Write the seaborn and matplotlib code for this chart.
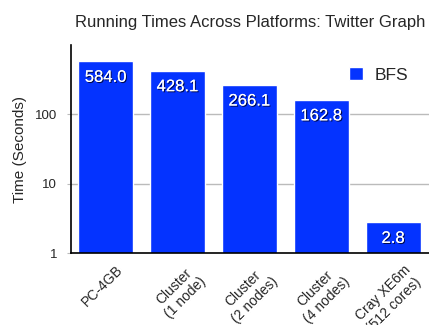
import matplotlib
matplotlib.use("Agg")
import matplotlib.pyplot as plt
import matplotlib.patheffects as pe
import matplotlib.transforms as mtrans
import seaborn as sns
import pandas as pd

categories = ["PC-4GB", "Cluster\n(1 node)", "Cluster\n(2 nodes)", "Cluster\n(4 nodes)", "Cray XE6m\n(512 cores)"]
bfs_times = [584.0, 428.1, 266.1, 162.8, 2.8]
series_name = "BFS"
y_ticks = [1, 10, 100]
y_tick_labels = ["1", "10", "100"]

df = pd.DataFrame({"platform": categories, "time": bfs_times, "series": series_name})

sns.set_style("white")
plt.rcParams["font.family"] = ["Liberation Sans", "DejaVu Sans"]

fig = plt.figure(figsize=(4.29, 3.25), dpi=100)
ax = fig.add_axes([71/429, 1 - 253.3/325, (429 - 71)/429, (253.3 - 45)/325])

blue = "#0433FF"
sns.barplot(data=df, x="platform", y="time", hue="series", palette=[blue],
            width=0.765, ax=ax, saturation=1, legend=True, zorder=2)
ax.set_yscale("log", nonpositive="clip")

ax.set_ylim(1, 1000)
ax.set_xlim(-0.48, 4.5)
ax.set_yticks(y_ticks)
ax.set_yticklabels(y_tick_labels)
ax.yaxis.set_minor_locator(matplotlib.ticker.NullLocator())
ax.grid(axis="y", color="#BBBBBB", linewidth=1, zorder=0)
ax.grid(axis="x", visible=False)
ax.set_axisbelow(True)
for s in ["top", "right"]:
    ax.spines[s].set_visible(False)
for s in ["left", "bottom"]:
    ax.spines[s].set_color("black")
    ax.spines[s].set_linewidth(1.2)
    ax.spines[s].set_zorder(3)
ax.tick_params(axis="y", which="major", length=3, color="#BBBBBB", labelsize=9.5, pad=7, left=True)
ax.tick_params(axis="x", length=0, labelsize=10, pad=7)

ax.set_xlabel("")
ax.set_ylabel("Time (Seconds)", fontsize=11, labelpad=6)
ax.set_title("Running Times Across Platforms: Twitter Graph", fontsize=12, pad=13)

offset = mtrans.ScaledTranslation(10/100, 0, fig.dpi_scale_trans)
for lbl in ax.get_xticklabels():
    lbl.set_rotation(45)
    lbl.set_ha("right")
    lbl.set_rotation_mode("anchor")
    lbl.set_multialignment("center")
    lbl.set_transform(lbl.get_transform() + offset)

for cont in ax.containers:
    texts = ax.bar_label(cont, fmt="%.1f", padding=-17, color="white", fontsize=12, zorder=4)
    for t in texts:
        t.set_path_effects([pe.withSimplePatchShadow(offset=(0.8, -0.8), shadow_rgbFace="#000022", alpha=0.8), pe.Normal()])

leg = ax.legend(loc="upper right", bbox_to_anchor=(0.985, 0.97), frameon=False,
                fontsize=12.5, handlelength=0.8, handleheight=0.8, handletextpad=0.65)

fig.savefig("out.png", dpi=100)
